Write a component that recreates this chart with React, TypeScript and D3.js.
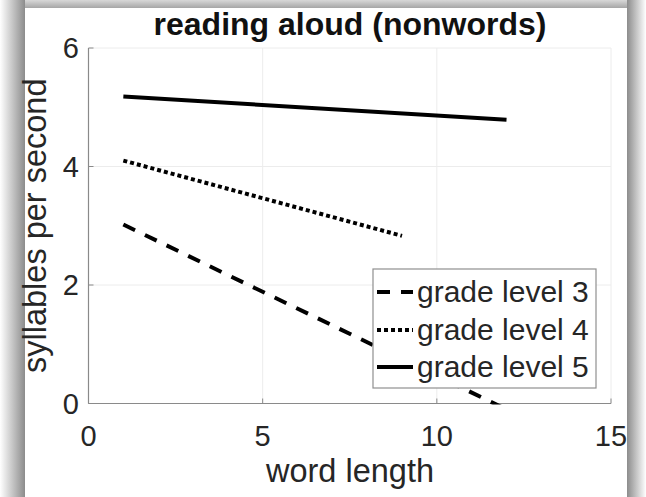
import React from "react";
import * as d3 from "d3";

const W = 646;
const H = 497;

const seriesNames = ["grade level 3", "grade level 4", "grade level 5"];
const grade3X = [1, 12];
const grade3Y = [3.02, -0.1];
const grade4X = [1, 9];
const grade4Y = [4.1, 2.83];
const grade5X = [1, 12];
const grade5Y = [5.18, 4.79];
const xTicks = [0, 5, 10, 15];
const yTicks = [0, 2, 4, 6];
const titleText = "reading aloud (nonwords)";
const xLabel = "word length";
const yLabel = "syllables per second";

const dashes = ["13 11", "4 3", ""];

export default function App() {
  const x = d3.scaleLinear().domain([0, 15]).range([88.5, 611]);
  const y = d3.scaleLinear().domain([0, 6]).range([403.5, 48]);
  const line = d3
    .line<[number, number]>()
    .x((d) => x(d[0]))
    .y((d) => y(d[1]));
  const series = [
    grade3X.map((v, i) => [v, grade3Y[i]] as [number, number]),
    grade4X.map((v, i) => [v, grade4Y[i]] as [number, number]),
    grade5X.map((v, i) => [v, grade5Y[i]] as [number, number]),
  ];
  const font = "'Liberation Sans', Arial, Helvetica, sans-serif";
  const textCol = "#262626";
  const axisCol = "#8a8a8a";
  const legX0 = 373;
  const legY0 = 269;
  const legW = 223;
  const legH = 119;
  const rowY = [292, 330, 367];

  return (
    <svg
      width={W}
      height={H}
      style={{ position: "absolute", left: 0, top: 0 }}
      fontFamily={font}
    >
      <defs>
        <linearGradient id="gl" x1="0" x2="1" y1="0" y2="0">
          <stop offset="0" stopColor="#ffffff" />
          <stop offset="1" stopColor="#8c8c8c" />
        </linearGradient>
        <linearGradient id="gr" x1="0" x2="1" y1="0" y2="0">
          <stop offset="0" stopColor="#8c8c8c" />
          <stop offset="1" stopColor="#ffffff" />
        </linearGradient>
        <linearGradient id="gt" x1="0" x2="0" y1="0" y2="1">
          <stop offset="0" stopColor="#d8d8d8" />
          <stop offset="1" stopColor="#a0a0a0" />
        </linearGradient>
        <clipPath id="plotclip">
          <rect x={x(0)} y={y(6) - 3} width={x(15) - x(0)} height={y(0) - y(6) + 4} />
        </clipPath>
      </defs>
      <rect x={0} y={0} width={W} height={H} fill="#ffffff" />
      <rect x={0} y={0} width={W} height={9} fill="url(#gt)" />
      <rect x={0} y={0} width={25} height={H} fill="url(#gl)" />
      <rect x={627} y={0} width={19} height={H} fill="url(#gr)" />
      <rect x={25} y={8} width={602} height={H - 8} fill="#ffffff" />

      {/* grid */}
      {xTicks.map((t) => (
        <line key={"gx" + t} x1={x(t)} x2={x(t)} y1={y(0)} y2={y(6)} stroke="#ececec" strokeWidth={1} />
      ))}
      {yTicks.map((t) => (
        <line key={"gy" + t} x1={x(0)} x2={x(15)} y1={y(t)} y2={y(t)} stroke="#ececec" strokeWidth={1} />
      ))}

      {/* axes */}
      <line x1={x(0)} x2={x(15)} y1={y(0)} y2={y(0)} stroke={axisCol} strokeWidth={1.2} />
      <line x1={x(0)} x2={x(0)} y1={y(0)} y2={y(6)} stroke={axisCol} strokeWidth={1.2} />
      {xTicks.map((t) => (
        <line key={"tx" + t} x1={x(t)} x2={x(t)} y1={y(0)} y2={y(0) - 5} stroke={axisCol} strokeWidth={1} />
      ))}
      {yTicks.map((t) => (
        <line key={"ty" + t} x1={x(0)} x2={x(0) + 5} y1={y(t)} y2={y(t)} stroke={axisCol} strokeWidth={1} />
      ))}

      {/* tick labels */}
      {xTicks.map((t) => (
        <text key={"lx" + t} x={x(t)} y={446} fontSize={29} fill={textCol} textAnchor="middle">
          {t}
        </text>
      ))}
      {yTicks.map((t) => (
        <text key={"ly" + t} x={79} y={y(t) + 10} fontSize={29} fill={textCol} textAnchor="end">
          {t}
        </text>
      ))}

      {/* data lines */}
      <g clipPath="url(#plotclip)">
        {series.map((s, i) => (
          <path
            key={"s" + i}
            d={line(s) || ""}
            fill="none"
            stroke="#000"
            strokeWidth={4}
            strokeDasharray={dashes[i] || undefined}
          />
        ))}
      </g>

      {/* legend */}
      <rect x={legX0} y={legY0} width={legW} height={legH} fill="#ffffff" stroke="#8f8f8f" strokeWidth={1.2} />
      {seriesNames.map((n, i) => (
        <g key={"leg" + i}>
          <line
            x1={377}
            x2={413}
            y1={rowY[i]}
            y2={rowY[i]}
            stroke="#000"
            strokeWidth={4}
            strokeDasharray={dashes[i] || undefined}
          />
          <text x={417} y={rowY[i] + 10} fontSize={30} fill={textCol}>
            {n}
          </text>
        </g>
      ))}

      {/* titles */}
      <text x={350} y={35} fontSize={32} fontWeight="bold" fill="#111" textAnchor="middle">
        {titleText}
      </text>
      <text x={350} y={482} fontSize={32.5} fill={textCol} textAnchor="middle">
        {xLabel}
      </text>
      <text
        transform={`translate(46, ${(y(0) + y(6)) / 2}) rotate(-90)`}
        fontSize={32.5}
        fill={textCol}
        textAnchor="middle"
      >
        {yLabel}
      </text>
    </svg>
  );
}
